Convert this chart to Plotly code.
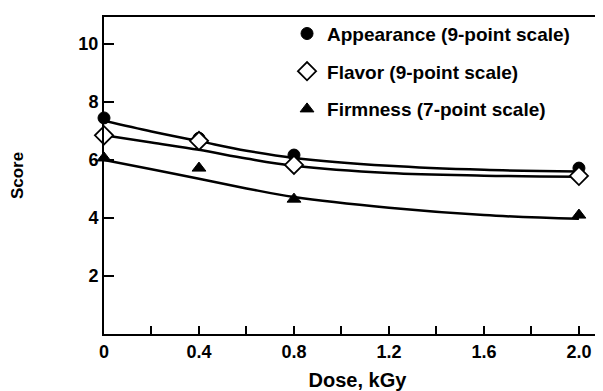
import plotly.graph_objects as go

# Measured points
dose = [0, 0.4, 0.8, 2.0]
appearance = [7.45, 6.75, 6.17, 5.72]
flavor = [6.85, 6.66, 5.83, 5.45]
firmness = [6.07, 5.72, 4.65, 4.10]

# Fitted curves
curve_dose = [0, 0.2, 0.4, 0.6, 0.8, 1.2, 1.6, 2.0]
appearance_fit = [7.35, 6.98, 6.65, 6.32, 6.07, 5.80, 5.66, 5.60]
flavor_fit = [6.85, 6.60, 6.35, 6.05, 5.80, 5.55, 5.46, 5.42]
firmness_fit = [6.00, 5.68, 5.35, 5.02, 4.72, 4.35, 4.10, 3.97]

names = ["Appearance (9-point scale)", "Flavor (9-point scale)", "Firmness (7-point scale)"]
x_minor_ticks = [0, 0.2, 0.4, 0.6, 0.8, 1.0, 1.2, 1.4, 1.6, 1.8, 2.0]
x_ticklabels = ["0", "", "0.4", "", "0.8", "", "1.2", "", "1.6", "", "2.0"]
y_ticks = [2, 4, 6, 8, 10]

FONT = "Liberation Sans, Arial, sans-serif"
fig = go.Figure()

for fit in [appearance_fit, flavor_fit, firmness_fit]:
    fig.add_trace(go.Scatter(x=curve_dose, y=fit, mode="lines", line=dict(color="black", width=2.5, shape="spline"),
                             showlegend=False, hoverinfo="skip"))

markers = [
    dict(symbol="circle", size=12, color="black", line=dict(color="black", width=1)),
    dict(symbol="diamond", size=14, color="white", line=dict(color="black", width=1.8)),
    dict(symbol="triangle-up", size=12, color="black", line=dict(color="black", width=1)),
]

for i, (vals, nm) in enumerate(zip([appearance, flavor, firmness], names)):
    fig.add_trace(go.Scatter(x=dose, y=vals, mode="markers", marker=markers[i], name=nm,
                             legendgroup=f"g{i}", cliponaxis=False))

fig.update_layout(
    width=603, height=391,
    margin=dict(l=96, r=0, t=9, b=65, autoexpand=False),
    paper_bgcolor="white", plot_bgcolor="white",
    font=dict(family=FONT, size=15, color="black", weight="bold"),
    showlegend=True,
    legend=dict(x=0.361, y=1.0074, xanchor="left", yanchor="top", bgcolor="rgba(0,0,0,0)",
                traceorder="grouped", tracegroupgap=10, font=dict(size=19, weight="bold"),
                itemwidth=30),
    xaxis=dict(range=[0, 2.135], tickvals=x_minor_ticks, ticktext=x_ticklabels,
               ticks="inside", ticklen=8, tickwidth=1.5, tickcolor="black", automargin=False,
               showline=True, linecolor="black", linewidth=2, mirror=True, showgrid=False, zeroline=False,
               title=dict(text="Dose, kGy", standoff=12, font=dict(size=20, weight="bold")),
               tickfont=dict(size=18, weight="bold")),
    yaxis=dict(range=[0, 10.93], tickvals=y_ticks, ticks="inside", ticklen=10, tickwidth=1.5, tickcolor="black",
               showline=True, linecolor="black", linewidth=2, showgrid=False, zeroline=False, automargin=False,
               title=dict(text="Score", standoff=58, font=dict(size=17, weight="bold")),
               tickfont=dict(size=18, weight="bold")),
)

fig.write_html("out.html")
